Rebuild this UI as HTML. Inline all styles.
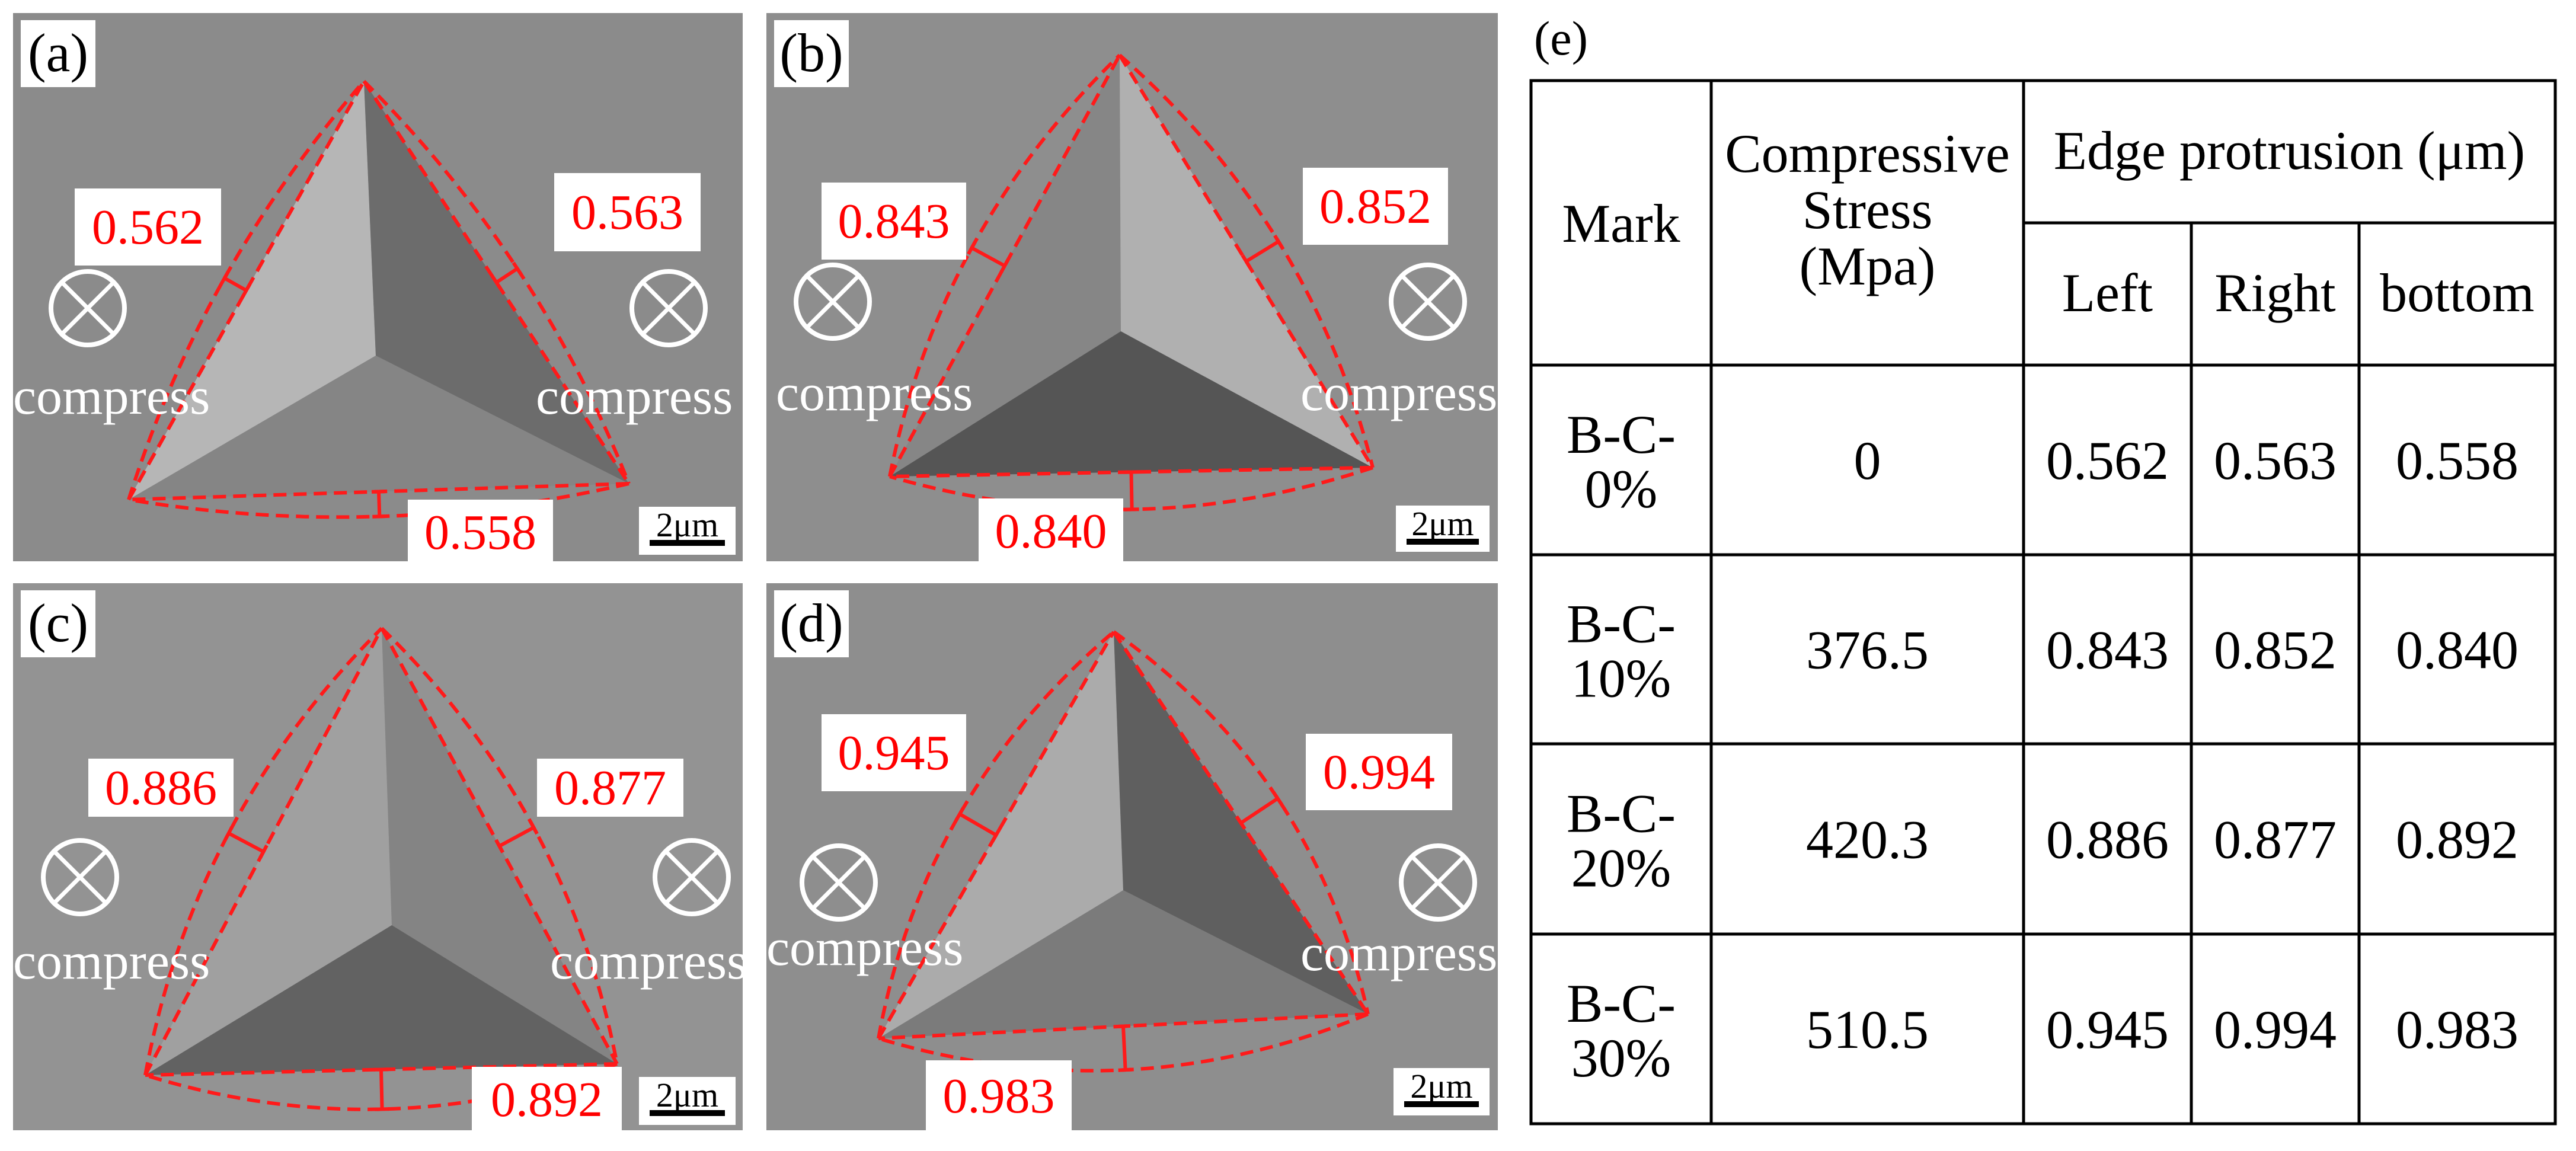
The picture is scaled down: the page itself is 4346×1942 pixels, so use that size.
<!DOCTYPE html>
<html><head><meta charset="utf-8">
<style>
html,body{margin:0;padding:0;background:#fff;font-family:'Liberation Serif','DejaVu Serif',serif;}
svg{display:block;}
svg text{font-family:'Liberation Serif','DejaVu Serif',serif;}
</style></head>
<body>
<svg id="fig" width="4346" height="1942" viewBox="0 0 4346 1942" xmlns="http://www.w3.org/2000/svg" font-family="'Liberation Serif', 'DejaVu Serif', serif">
<defs>
<clipPath id="cpa"><rect x="0" y="0" width="1231" height="925"/></clipPath>
<clipPath id="cpb"><rect x="0" y="0" width="1234" height="925"/></clipPath>
<clipPath id="cpc"><rect x="0" y="0" width="1231" height="923"/></clipPath>
<clipPath id="cpd"><rect x="0" y="0" width="1234" height="923"/></clipPath>
</defs>
</svg>
<script>
// ---- data ----
const panelNames = ["a","b","c","d"];
const leftValues = [0.562, 0.843, 0.886, 0.945];
const rightValues = [0.563, 0.852, 0.877, 0.994];
const bottomValues = [0.558, 0.840, 0.892, 0.983];
const marks = ["B-C-0%","B-C-10%","B-C-20%","B-C-30%"];
const stresses = ["0","376.5","420.3","510.5"];

const NS="http://www.w3.org/2000/svg";
const svg=document.getElementById('fig');
const FF="'Liberation Serif', 'DejaVu Serif', serif";
function mk(tag,attrs,parent){const e=document.createElementNS(NS,tag);for(const k in attrs)e.setAttribute(k,attrs[k]);if(tag==='text'){e.setAttribute('font-family',FF);e.style.fontFamily=FF;}(parent||svg).appendChild(e);return e;}

const P=[
 {ox:22,oy:22,w:1231,h:925,clip:"cpa",bg:"#8b8b8b",f:["#b6b6b6","#6c6c6c","#858585"],
  T:[592,115],BL:[195,821],BR:[1039,794],C:[612,578],
  lb:[104,296,247,130],rb:[913,270,247,132],bb:[666,821,245,110],
  c1:[126,498],c2:[1106,498],cp1:[0,676],cp2:[882,676],sc:[1056,833,163,81]},
 {ox:1293,oy:22,w:1234,h:925,clip:"cpb",bg:"#8e8e8e",f:["#868686","#b0b0b0","#555555"],
  T:[596,71],BL:[208,782],BR:[1023,767],C:[598,537],
  lb:[93,286,244,130],rb:[905,261,245,130],bb:[358,819,244,110],
  c1:[112,487],c2:[1116,487],cp1:[16,670],cp2:[901,670],sc:[1062,831,158,78]},
 {ox:22,oy:984,w:1231,h:923,clip:"cpc",bg:"#939393",f:["#a0a0a0","#848484","#626262"],
  T:[622,76],BL:[223,830],BR:[1019,811],C:[639,577],
  lb:[127,296,245,98],rb:[884,296,247,98],bb:[774,816,253,110],
  c1:[113,496],c2:[1145,496],cp1:[0,667],cp2:[906,667],sc:[1056,833,163,81]},
 {ox:1293,oy:984,w:1234,h:923,clip:"cpd",bg:"#8e8e8e",f:["#ababab","#5f5f5f","#7b7b7b"],
  T:[586,82],BL:[189,768],BR:[1015,727],C:[602,518],
  lb:[93,221,244,130],rb:[910,254,247,129],bb:[269,805,246,120],
  c1:[122,505],c2:[1133,505],cp1:[0,644],cp2:[901,653],sc:[1058,818,162,80]}
];
const K=75;

function edge(g,A,B,val,name){
  const mx=(A[0]+B[0])/2,my=(A[1]+B[1])/2;
  const dx=B[0]-A[0],dy=B[1]-A[1],L=Math.hypot(dx,dy);
  const nx=dy/L,ny=-dx/L;
  const b=val*K;
  const ln=mk('line',{x1:A[0],y1:A[1],x2:B[0],y2:B[1],stroke:"#ff1a1a","stroke-width":6,"stroke-dasharray":"22 12",fill:"none"},g);
  
  
  const cv=mk('path',{d:`M${A[0]},${A[1]} Q${mx+nx*2*b},${my+ny*2*b} ${B[0]},${B[1]}`,stroke:"#ff1a1a","stroke-width":6,"stroke-dasharray":"22 12",fill:"none"},g);
  
  
  const tk=mk('path',{d:`M${mx},${my} L${mx+nx*b},${my+ny*b} M${mx-dx/L*12},${my-dy/L*12} L${mx+dx/L*12},${my+dy/L*12} M${mx+nx*b-dx/L*12},${my+ny*b-dy/L*12} L${mx+nx*b+dx/L*12},${my+ny*b+dy/L*12}`,stroke:"#ff1a1a","stroke-width":6,fill:"none"},g);
  
  
}
function valBox(g,r,val,name){
  const bx=mk('rect',{x:r[0],y:r[1],width:r[2],height:r[3],fill:"#fff"},g);
  
  
  const t=mk('text',{x:r[0]+r[2]/2,y:r[1]+r[3]/2+28,"text-anchor":"middle","font-size":84,fill:"#ff0000"},g);
  t.textContent=val.toFixed(3);
  
  
}
function compressSym(g,c,tx,ty,name){
  const cg=mk('g',{},g);
  
  
  mk('circle',{cx:c[0],cy:c[1],r:62,fill:"none",stroke:"#fff","stroke-width":8},cg);
  const d=62*0.707;
  mk('path',{d:`M${c[0]-d},${c[1]-d}L${c[0]+d},${c[1]+d}M${c[0]+d},${c[1]-d}L${c[0]-d},${c[1]+d}`,stroke:"#fff","stroke-width":7},cg);
  const t=mk('text',{x:tx,y:ty,"font-size":88,fill:"#fff"},g);
  t.textContent="compress";
  
  
}

P.forEach((p,i)=>{
  const g=mk('g',{transform:`translate(${p.ox},${p.oy})`,"clip-path":`url(#${p.clip})`});
  
  
  const bg=mk('rect',{x:0,y:0,width:p.w,height:p.h,fill:p.bg},g);
  
  
  const fl=mk('polygon',{points:[p.T,p.C,p.BL].map(q=>q.join(',')).join(' '),fill:p.f[0]},g);
  
  
  const fr=mk('polygon',{points:[p.T,p.BR,p.C].map(q=>q.join(',')).join(' '),fill:p.f[1]},g);
  
  
  const fb=mk('polygon',{points:[p.BL,p.C,p.BR].map(q=>q.join(',')).join(' '),fill:p.f[2]},g);
  
  
  edge(g,p.BL,p.T,leftValues[i],'left');
  edge(g,p.T,p.BR,rightValues[i],'right');
  edge(g,p.BR,p.BL,bottomValues[i],'bottom');
  compressSym(g,p.c1,p.cp1[0],p.cp1[1],'left');
  compressSym(g,p.c2,p.cp2[0],p.cp2[1],'right');
  valBox(g,p.lb,leftValues[i],'left');
  valBox(g,p.rb,rightValues[i],'right');
  valBox(g,p.bb,bottomValues[i],'bottom');
  const lb=mk('rect',{x:13,y:12,width:126,height:113,fill:"#fff"},g);
  
  
  const lt=mk('text',{x:76,y:98,"text-anchor":"middle","font-size":92,fill:"#000"},g);
  lt.textContent='('+panelNames[i]+')';
  
  
  const s=p.sc;
  const sg=mk('g',{},g);
  
  
  mk('rect',{x:s[0],y:s[1],width:s[2],height:s[3],fill:"#fff"},sg);
  const st=mk('text',{x:s[0]+s[2]/2,y:s[1]+50,"text-anchor":"middle","font-size":58,fill:"#000"},sg);
  st.textContent='2μm';
  mk('rect',{x:s[0]+18,y:s[1]+56,width:s[2]-36,height:10,fill:"#000"},sg);
});

// ---- table ----
const cols=[2583,2887,3414,3697,3980,4311];
const rows=[136,376,616,936,1255,1576,1896];
const e=mk('text',{x:2588,y:92,"font-size":82,fill:"#000"});
e.textContent='(e)';


const tg=mk('g',{stroke:"#000","stroke-width":5,fill:"none"});


mk('rect',{x:cols[0],y:rows[0],width:cols[5]-cols[0],height:rows[6]-rows[0]},tg);
mk('line',{x1:cols[2],y1:rows[1],x2:cols[5],y2:rows[1]},tg);
for(let r=2;r<6;r++)mk('line',{x1:cols[0],y1:rows[r],x2:cols[5],y2:rows[r]},tg);
mk('line',{x1:cols[1],y1:rows[0],x2:cols[1],y2:rows[6]},tg);
mk('line',{x1:cols[2],y1:rows[0],x2:cols[2],y2:rows[6]},tg);
mk('line',{x1:cols[3],y1:rows[1],x2:cols[3],y2:rows[6]},tg);
mk('line',{x1:cols[4],y1:rows[1],x2:cols[4],y2:rows[6]},tg);
function cell(x,y,txt,name){
  const t=mk('text',{x:x,y:y,"text-anchor":"middle","font-size":92,fill:"#000"});
  t.textContent=txt;
  
  
}
const cx=i=>(cols[i]+cols[i+1])/2;
cell(cx(0),408,'Mark','header-mark');
cell(cx(1),290,'Compressive','header-stress-1');
cell(cx(1),385,'Stress','header-stress-2');
cell(cx(1),480,'(Mpa)','header-stress-3');
cell((cols[2]+cols[5])/2,285,'Edge protrusion  (μm)','header-edge-protrusion');
cell(cx(2),525,'Left','header-left');
cell(cx(3),525,'Right','header-right');
cell(cx(4),525,'bottom','header-bottom');
marks.forEach((m,i)=>{
  const top=rows[i+2],bot=rows[i+3],mid=(top+bot)/2;
  const parts=m.split('C-');
  cell(cx(0),mid-12,parts[0]+'C-','cell-mark-'+i+'-a');
  cell(cx(0),mid+80,parts[1],'cell-mark-'+i+'-b');
  cell(cx(1),mid+32,stresses[i],'cell-stress-'+i);
  cell(cx(2),mid+32,leftValues[i].toFixed(3),'cell-left-'+i);
  cell(cx(3),mid+32,rightValues[i].toFixed(3),'cell-right-'+i);
  cell(cx(4),mid+32,bottomValues[i].toFixed(3),'cell-bottom-'+i);
});
</script>
</body></html>
